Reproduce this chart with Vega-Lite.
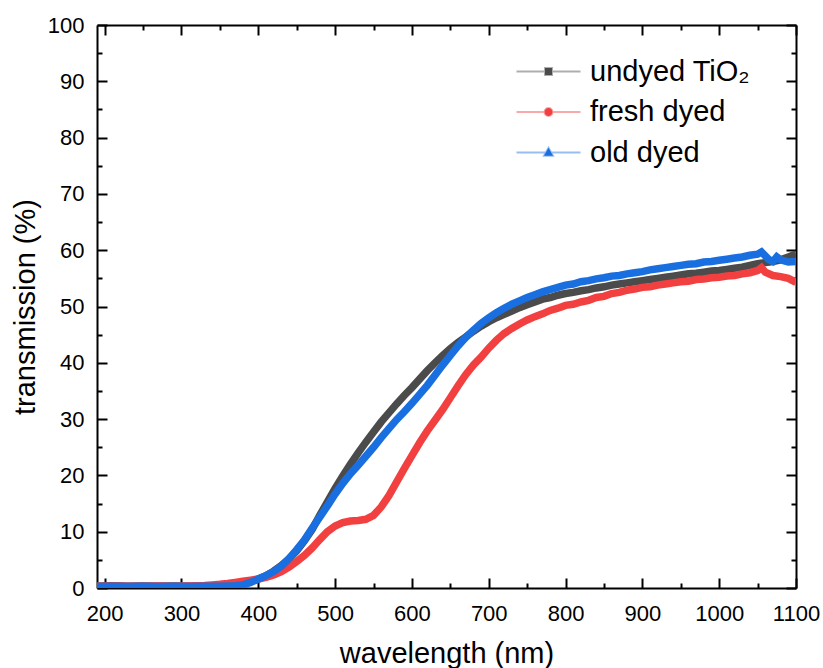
{
  "$schema": "https://vega.github.io/schema/vega-lite/v6.json",
  "width": 699,
  "height": 563,
  "autosize": {"type": "none"},
  "padding": {"left": 97, "top": 25, "right": 27, "bottom": 80},
  "config": {"font": "Liberation Sans", "view": {"stroke": null}, "axis": {"grid": false}},
  "datasets": {
    "spectra": [
      {"series": "undyed TiO₂", "wavelength": 190, "transmission": 0.3},
      {"series": "undyed TiO₂", "wavelength": 210, "transmission": 0.4},
      {"series": "undyed TiO₂", "wavelength": 230, "transmission": 0.3},
      {"series": "undyed TiO₂", "wavelength": 250, "transmission": 0.35},
      {"series": "undyed TiO₂", "wavelength": 270, "transmission": 0.3},
      {"series": "undyed TiO₂", "wavelength": 290, "transmission": 0.35},
      {"series": "undyed TiO₂", "wavelength": 310, "transmission": 0.3},
      {"series": "undyed TiO₂", "wavelength": 330, "transmission": 0.35},
      {"series": "undyed TiO₂", "wavelength": 350, "transmission": 0.4},
      {"series": "undyed TiO₂", "wavelength": 360, "transmission": 0.45},
      {"series": "undyed TiO₂", "wavelength": 370, "transmission": 0.55},
      {"series": "undyed TiO₂", "wavelength": 380, "transmission": 0.75},
      {"series": "undyed TiO₂", "wavelength": 390, "transmission": 1.1},
      {"series": "undyed TiO₂", "wavelength": 400, "transmission": 1.6},
      {"series": "undyed TiO₂", "wavelength": 410, "transmission": 2.2},
      {"series": "undyed TiO₂", "wavelength": 420, "transmission": 3.0},
      {"series": "undyed TiO₂", "wavelength": 430, "transmission": 4.0},
      {"series": "undyed TiO₂", "wavelength": 440, "transmission": 5.2},
      {"series": "undyed TiO₂", "wavelength": 450, "transmission": 6.6},
      {"series": "undyed TiO₂", "wavelength": 460, "transmission": 8.4},
      {"series": "undyed TiO₂", "wavelength": 470, "transmission": 10.4},
      {"series": "undyed TiO₂", "wavelength": 480, "transmission": 12.9},
      {"series": "undyed TiO₂", "wavelength": 490, "transmission": 15.3},
      {"series": "undyed TiO₂", "wavelength": 500, "transmission": 17.7},
      {"series": "undyed TiO₂", "wavelength": 510, "transmission": 19.9},
      {"series": "undyed TiO₂", "wavelength": 520, "transmission": 22.0},
      {"series": "undyed TiO₂", "wavelength": 530, "transmission": 24.0},
      {"series": "undyed TiO₂", "wavelength": 540, "transmission": 25.9},
      {"series": "undyed TiO₂", "wavelength": 550, "transmission": 27.7},
      {"series": "undyed TiO₂", "wavelength": 560, "transmission": 29.5},
      {"series": "undyed TiO₂", "wavelength": 570, "transmission": 31.1},
      {"series": "undyed TiO₂", "wavelength": 580, "transmission": 32.7},
      {"series": "undyed TiO₂", "wavelength": 590, "transmission": 34.2},
      {"series": "undyed TiO₂", "wavelength": 600, "transmission": 35.6},
      {"series": "undyed TiO₂", "wavelength": 610, "transmission": 37.1},
      {"series": "undyed TiO₂", "wavelength": 620, "transmission": 38.6},
      {"series": "undyed TiO₂", "wavelength": 630, "transmission": 40.0},
      {"series": "undyed TiO₂", "wavelength": 640, "transmission": 41.3},
      {"series": "undyed TiO₂", "wavelength": 650, "transmission": 42.5},
      {"series": "undyed TiO₂", "wavelength": 660, "transmission": 43.6},
      {"series": "undyed TiO₂", "wavelength": 670, "transmission": 44.6},
      {"series": "undyed TiO₂", "wavelength": 680, "transmission": 45.6},
      {"series": "undyed TiO₂", "wavelength": 690, "transmission": 46.5},
      {"series": "undyed TiO₂", "wavelength": 700, "transmission": 47.3},
      {"series": "undyed TiO₂", "wavelength": 710, "transmission": 48.0},
      {"series": "undyed TiO₂", "wavelength": 720, "transmission": 48.6},
      {"series": "undyed TiO₂", "wavelength": 730, "transmission": 49.2},
      {"series": "undyed TiO₂", "wavelength": 740, "transmission": 49.8},
      {"series": "undyed TiO₂", "wavelength": 750, "transmission": 50.3},
      {"series": "undyed TiO₂", "wavelength": 760, "transmission": 50.8},
      {"series": "undyed TiO₂", "wavelength": 770, "transmission": 51.3},
      {"series": "undyed TiO₂", "wavelength": 780, "transmission": 51.6},
      {"series": "undyed TiO₂", "wavelength": 790, "transmission": 52.0},
      {"series": "undyed TiO₂", "wavelength": 800, "transmission": 52.3},
      {"series": "undyed TiO₂", "wavelength": 810, "transmission": 52.5},
      {"series": "undyed TiO₂", "wavelength": 820, "transmission": 52.8},
      {"series": "undyed TiO₂", "wavelength": 830, "transmission": 53.0},
      {"series": "undyed TiO₂", "wavelength": 840, "transmission": 53.3},
      {"series": "undyed TiO₂", "wavelength": 850, "transmission": 53.5},
      {"series": "undyed TiO₂", "wavelength": 860, "transmission": 53.8},
      {"series": "undyed TiO₂", "wavelength": 870, "transmission": 54.0},
      {"series": "undyed TiO₂", "wavelength": 880, "transmission": 54.2},
      {"series": "undyed TiO₂", "wavelength": 890, "transmission": 54.4},
      {"series": "undyed TiO₂", "wavelength": 900, "transmission": 54.6},
      {"series": "undyed TiO₂", "wavelength": 910, "transmission": 54.8},
      {"series": "undyed TiO₂", "wavelength": 920, "transmission": 55.0},
      {"series": "undyed TiO₂", "wavelength": 930, "transmission": 55.2},
      {"series": "undyed TiO₂", "wavelength": 940, "transmission": 55.4},
      {"series": "undyed TiO₂", "wavelength": 950, "transmission": 55.6},
      {"series": "undyed TiO₂", "wavelength": 960, "transmission": 55.8},
      {"series": "undyed TiO₂", "wavelength": 970, "transmission": 55.9},
      {"series": "undyed TiO₂", "wavelength": 980, "transmission": 56.1},
      {"series": "undyed TiO₂", "wavelength": 990, "transmission": 56.3},
      {"series": "undyed TiO₂", "wavelength": 1000, "transmission": 56.4},
      {"series": "undyed TiO₂", "wavelength": 1010, "transmission": 56.6},
      {"series": "undyed TiO₂", "wavelength": 1020, "transmission": 56.8},
      {"series": "undyed TiO₂", "wavelength": 1030, "transmission": 57.0},
      {"series": "undyed TiO₂", "wavelength": 1040, "transmission": 57.3},
      {"series": "undyed TiO₂", "wavelength": 1050, "transmission": 57.6},
      {"series": "undyed TiO₂", "wavelength": 1060, "transmission": 57.8},
      {"series": "undyed TiO₂", "wavelength": 1070, "transmission": 58.0},
      {"series": "undyed TiO₂", "wavelength": 1080, "transmission": 58.3},
      {"series": "undyed TiO₂", "wavelength": 1090, "transmission": 58.8},
      {"series": "undyed TiO₂", "wavelength": 1100, "transmission": 59.3},

      {"series": "fresh dyed", "wavelength": 190, "transmission": 0.3},
      {"series": "fresh dyed", "wavelength": 210, "transmission": 0.35},
      {"series": "fresh dyed", "wavelength": 230, "transmission": 0.3},
      {"series": "fresh dyed", "wavelength": 250, "transmission": 0.3},
      {"series": "fresh dyed", "wavelength": 270, "transmission": 0.35},
      {"series": "fresh dyed", "wavelength": 290, "transmission": 0.3},
      {"series": "fresh dyed", "wavelength": 310, "transmission": 0.35},
      {"series": "fresh dyed", "wavelength": 330, "transmission": 0.45},
      {"series": "fresh dyed", "wavelength": 340, "transmission": 0.55},
      {"series": "fresh dyed", "wavelength": 350, "transmission": 0.65},
      {"series": "fresh dyed", "wavelength": 360, "transmission": 0.8},
      {"series": "fresh dyed", "wavelength": 370, "transmission": 1.0},
      {"series": "fresh dyed", "wavelength": 380, "transmission": 1.2},
      {"series": "fresh dyed", "wavelength": 390, "transmission": 1.4},
      {"series": "fresh dyed", "wavelength": 400, "transmission": 1.6},
      {"series": "fresh dyed", "wavelength": 410, "transmission": 1.9},
      {"series": "fresh dyed", "wavelength": 420, "transmission": 2.3},
      {"series": "fresh dyed", "wavelength": 430, "transmission": 2.9},
      {"series": "fresh dyed", "wavelength": 440, "transmission": 3.7},
      {"series": "fresh dyed", "wavelength": 450, "transmission": 4.7},
      {"series": "fresh dyed", "wavelength": 460, "transmission": 5.8},
      {"series": "fresh dyed", "wavelength": 470, "transmission": 7.1},
      {"series": "fresh dyed", "wavelength": 480, "transmission": 8.6},
      {"series": "fresh dyed", "wavelength": 490, "transmission": 10.0},
      {"series": "fresh dyed", "wavelength": 500, "transmission": 11.0},
      {"series": "fresh dyed", "wavelength": 510, "transmission": 11.6},
      {"series": "fresh dyed", "wavelength": 520, "transmission": 11.9},
      {"series": "fresh dyed", "wavelength": 530, "transmission": 12.0},
      {"series": "fresh dyed", "wavelength": 540, "transmission": 12.2},
      {"series": "fresh dyed", "wavelength": 550, "transmission": 12.9},
      {"series": "fresh dyed", "wavelength": 560, "transmission": 14.4},
      {"series": "fresh dyed", "wavelength": 570, "transmission": 16.4},
      {"series": "fresh dyed", "wavelength": 580, "transmission": 18.8},
      {"series": "fresh dyed", "wavelength": 590, "transmission": 21.2},
      {"series": "fresh dyed", "wavelength": 600, "transmission": 23.5},
      {"series": "fresh dyed", "wavelength": 610, "transmission": 25.8},
      {"series": "fresh dyed", "wavelength": 620, "transmission": 27.9},
      {"series": "fresh dyed", "wavelength": 630, "transmission": 29.8},
      {"series": "fresh dyed", "wavelength": 640, "transmission": 31.7},
      {"series": "fresh dyed", "wavelength": 650, "transmission": 33.8},
      {"series": "fresh dyed", "wavelength": 660, "transmission": 35.9},
      {"series": "fresh dyed", "wavelength": 670, "transmission": 37.9},
      {"series": "fresh dyed", "wavelength": 680, "transmission": 39.6},
      {"series": "fresh dyed", "wavelength": 690, "transmission": 41.0},
      {"series": "fresh dyed", "wavelength": 700, "transmission": 42.6},
      {"series": "fresh dyed", "wavelength": 710, "transmission": 44.0},
      {"series": "fresh dyed", "wavelength": 720, "transmission": 45.2},
      {"series": "fresh dyed", "wavelength": 730, "transmission": 46.1},
      {"series": "fresh dyed", "wavelength": 740, "transmission": 46.9},
      {"series": "fresh dyed", "wavelength": 750, "transmission": 47.6},
      {"series": "fresh dyed", "wavelength": 760, "transmission": 48.2},
      {"series": "fresh dyed", "wavelength": 770, "transmission": 48.7},
      {"series": "fresh dyed", "wavelength": 780, "transmission": 49.3},
      {"series": "fresh dyed", "wavelength": 790, "transmission": 49.7},
      {"series": "fresh dyed", "wavelength": 800, "transmission": 50.2},
      {"series": "fresh dyed", "wavelength": 810, "transmission": 50.4},
      {"series": "fresh dyed", "wavelength": 820, "transmission": 50.8},
      {"series": "fresh dyed", "wavelength": 830, "transmission": 51.1},
      {"series": "fresh dyed", "wavelength": 840, "transmission": 51.6},
      {"series": "fresh dyed", "wavelength": 850, "transmission": 51.8},
      {"series": "fresh dyed", "wavelength": 860, "transmission": 52.3},
      {"series": "fresh dyed", "wavelength": 870, "transmission": 52.5},
      {"series": "fresh dyed", "wavelength": 880, "transmission": 52.9},
      {"series": "fresh dyed", "wavelength": 890, "transmission": 53.1},
      {"series": "fresh dyed", "wavelength": 900, "transmission": 53.4},
      {"series": "fresh dyed", "wavelength": 910, "transmission": 53.5},
      {"series": "fresh dyed", "wavelength": 920, "transmission": 53.8},
      {"series": "fresh dyed", "wavelength": 930, "transmission": 54.0},
      {"series": "fresh dyed", "wavelength": 940, "transmission": 54.2},
      {"series": "fresh dyed", "wavelength": 950, "transmission": 54.4},
      {"series": "fresh dyed", "wavelength": 960, "transmission": 54.5},
      {"series": "fresh dyed", "wavelength": 970, "transmission": 54.8},
      {"series": "fresh dyed", "wavelength": 980, "transmission": 54.9},
      {"series": "fresh dyed", "wavelength": 990, "transmission": 55.1},
      {"series": "fresh dyed", "wavelength": 1000, "transmission": 55.2},
      {"series": "fresh dyed", "wavelength": 1010, "transmission": 55.4},
      {"series": "fresh dyed", "wavelength": 1020, "transmission": 55.5},
      {"series": "fresh dyed", "wavelength": 1030, "transmission": 55.8},
      {"series": "fresh dyed", "wavelength": 1040, "transmission": 56.0},
      {"series": "fresh dyed", "wavelength": 1050, "transmission": 56.4},
      {"series": "fresh dyed", "wavelength": 1055, "transmission": 56.9},
      {"series": "fresh dyed", "wavelength": 1060, "transmission": 56.1},
      {"series": "fresh dyed", "wavelength": 1070, "transmission": 55.5},
      {"series": "fresh dyed", "wavelength": 1080, "transmission": 55.3},
      {"series": "fresh dyed", "wavelength": 1090, "transmission": 55.0},
      {"series": "fresh dyed", "wavelength": 1100, "transmission": 54.3},

      {"series": "old dyed", "wavelength": 190, "transmission": 0.25},
      {"series": "old dyed", "wavelength": 210, "transmission": 0.3},
      {"series": "old dyed", "wavelength": 230, "transmission": 0.25},
      {"series": "old dyed", "wavelength": 250, "transmission": 0.3},
      {"series": "old dyed", "wavelength": 270, "transmission": 0.25},
      {"series": "old dyed", "wavelength": 290, "transmission": 0.3},
      {"series": "old dyed", "wavelength": 310, "transmission": 0.25},
      {"series": "old dyed", "wavelength": 330, "transmission": 0.3},
      {"series": "old dyed", "wavelength": 350, "transmission": 0.3},
      {"series": "old dyed", "wavelength": 360, "transmission": 0.35},
      {"series": "old dyed", "wavelength": 370, "transmission": 0.4},
      {"series": "old dyed", "wavelength": 380, "transmission": 0.55},
      {"series": "old dyed", "wavelength": 390, "transmission": 1.0},
      {"series": "old dyed", "wavelength": 400, "transmission": 1.6},
      {"series": "old dyed", "wavelength": 410, "transmission": 2.2},
      {"series": "old dyed", "wavelength": 420, "transmission": 2.9},
      {"series": "old dyed", "wavelength": 430, "transmission": 3.9},
      {"series": "old dyed", "wavelength": 440, "transmission": 5.2},
      {"series": "old dyed", "wavelength": 450, "transmission": 6.8},
      {"series": "old dyed", "wavelength": 460, "transmission": 8.5},
      {"series": "old dyed", "wavelength": 470, "transmission": 10.6},
      {"series": "old dyed", "wavelength": 480, "transmission": 12.6},
      {"series": "old dyed", "wavelength": 490, "transmission": 14.6},
      {"series": "old dyed", "wavelength": 500, "transmission": 16.7},
      {"series": "old dyed", "wavelength": 510, "transmission": 18.6},
      {"series": "old dyed", "wavelength": 520, "transmission": 20.3},
      {"series": "old dyed", "wavelength": 530, "transmission": 21.8},
      {"series": "old dyed", "wavelength": 540, "transmission": 23.4},
      {"series": "old dyed", "wavelength": 550, "transmission": 25.0},
      {"series": "old dyed", "wavelength": 560, "transmission": 26.7},
      {"series": "old dyed", "wavelength": 570, "transmission": 28.3},
      {"series": "old dyed", "wavelength": 580, "transmission": 29.9},
      {"series": "old dyed", "wavelength": 590, "transmission": 31.3},
      {"series": "old dyed", "wavelength": 600, "transmission": 32.8},
      {"series": "old dyed", "wavelength": 610, "transmission": 34.4},
      {"series": "old dyed", "wavelength": 620, "transmission": 36.0},
      {"series": "old dyed", "wavelength": 630, "transmission": 37.8},
      {"series": "old dyed", "wavelength": 640, "transmission": 39.6},
      {"series": "old dyed", "wavelength": 650, "transmission": 41.3},
      {"series": "old dyed", "wavelength": 660, "transmission": 43.0},
      {"series": "old dyed", "wavelength": 670, "transmission": 44.5},
      {"series": "old dyed", "wavelength": 680, "transmission": 45.8},
      {"series": "old dyed", "wavelength": 690, "transmission": 47.0},
      {"series": "old dyed", "wavelength": 700, "transmission": 48.0},
      {"series": "old dyed", "wavelength": 710, "transmission": 48.9},
      {"series": "old dyed", "wavelength": 720, "transmission": 49.7},
      {"series": "old dyed", "wavelength": 730, "transmission": 50.4},
      {"series": "old dyed", "wavelength": 740, "transmission": 51.0},
      {"series": "old dyed", "wavelength": 750, "transmission": 51.6},
      {"series": "old dyed", "wavelength": 760, "transmission": 52.1},
      {"series": "old dyed", "wavelength": 770, "transmission": 52.6},
      {"series": "old dyed", "wavelength": 780, "transmission": 53.0},
      {"series": "old dyed", "wavelength": 790, "transmission": 53.4},
      {"series": "old dyed", "wavelength": 800, "transmission": 53.8},
      {"series": "old dyed", "wavelength": 810, "transmission": 54.0},
      {"series": "old dyed", "wavelength": 820, "transmission": 54.4},
      {"series": "old dyed", "wavelength": 830, "transmission": 54.6},
      {"series": "old dyed", "wavelength": 840, "transmission": 54.9},
      {"series": "old dyed", "wavelength": 850, "transmission": 55.1},
      {"series": "old dyed", "wavelength": 860, "transmission": 55.4},
      {"series": "old dyed", "wavelength": 870, "transmission": 55.5},
      {"series": "old dyed", "wavelength": 880, "transmission": 55.8},
      {"series": "old dyed", "wavelength": 890, "transmission": 56.0},
      {"series": "old dyed", "wavelength": 900, "transmission": 56.2},
      {"series": "old dyed", "wavelength": 910, "transmission": 56.5},
      {"series": "old dyed", "wavelength": 920, "transmission": 56.7},
      {"series": "old dyed", "wavelength": 930, "transmission": 56.9},
      {"series": "old dyed", "wavelength": 940, "transmission": 57.1},
      {"series": "old dyed", "wavelength": 950, "transmission": 57.3},
      {"series": "old dyed", "wavelength": 960, "transmission": 57.5},
      {"series": "old dyed", "wavelength": 970, "transmission": 57.6},
      {"series": "old dyed", "wavelength": 980, "transmission": 57.9},
      {"series": "old dyed", "wavelength": 990, "transmission": 58.0},
      {"series": "old dyed", "wavelength": 1000, "transmission": 58.2},
      {"series": "old dyed", "wavelength": 1010, "transmission": 58.4},
      {"series": "old dyed", "wavelength": 1020, "transmission": 58.6},
      {"series": "old dyed", "wavelength": 1030, "transmission": 58.8},
      {"series": "old dyed", "wavelength": 1040, "transmission": 59.1},
      {"series": "old dyed", "wavelength": 1050, "transmission": 59.3},
      {"series": "old dyed", "wavelength": 1055, "transmission": 59.7},
      {"series": "old dyed", "wavelength": 1060, "transmission": 59.0},
      {"series": "old dyed", "wavelength": 1065, "transmission": 58.3},
      {"series": "old dyed", "wavelength": 1070, "transmission": 58.0},
      {"series": "old dyed", "wavelength": 1075, "transmission": 58.8},
      {"series": "old dyed", "wavelength": 1080, "transmission": 58.3},
      {"series": "old dyed", "wavelength": 1090, "transmission": 57.9},
      {"series": "old dyed", "wavelength": 1100, "transmission": 58.0}
    ]
  },
  "data": {"name": "spectra"},
  "layer": [
    {
      "mark": {"type": "line", "strokeWidth": 7.5, "clip": true},
      "encoding": {
        "x": {
          "field": "wavelength", "type": "quantitative",
          "scale": {"domain": [190, 1100], "nice": false, "zero": false},
          "axis": {
            "orient": "bottom",
            "values": [200, 250, 300, 350, 400, 450, 500, 550, 600, 650, 700, 750, 800, 850, 900, 950, 1000, 1050, 1100],
            "labelExpr": "datum.value % 100 === 0 ? '' + datum.value : ''",
            "tickSize": {"condition": {"test": "datum.value % 100 === 0", "value": -10}, "value": -5},
            "tickWidth": 2, "tickColor": "black",
            "domainColor": "black", "domainWidth": 2,
            "labelFontSize": 22, "labelColor": "black", "labelPadding": 25,
            "labelFlush": false, "labelOverlap": false, "labelBound": false,
            "title": "wavelength (nm)", "titleFontSize": 29, "titleFontWeight": "normal",
            "titleColor": "black", "titlePadding": 10, "grid": false
          }
        },
        "y": {
          "field": "transmission", "type": "quantitative",
          "scale": {"domain": [0, 100], "nice": false},
          "axis": {
            "orient": "left",
            "values": [0, 5, 10, 15, 20, 25, 30, 35, 40, 45, 50, 55, 60, 65, 70, 75, 80, 85, 90, 95, 100],
            "labelExpr": "datum.value % 10 === 0 ? '' + datum.value : ''",
            "tickSize": {"condition": {"test": "datum.value % 10 === 0", "value": -10}, "value": -5},
            "tickWidth": 2, "tickColor": "black",
            "domainColor": "black", "domainWidth": 2,
            "labelFontSize": 22, "labelColor": "black", "labelPadding": 23,
            "labelFlush": false, "labelOverlap": false, "labelBound": false,
            "title": "transmission (%)", "titleFontSize": 29, "titleFontWeight": "normal",
            "titleColor": "black", "titlePadding": 7, "grid": false
          }
        },
        "color": {
          "field": "series", "type": "nominal",
          "scale": {"domain": ["undyed TiO₂", "fresh dyed", "old dyed"], "range": ["#4b4b4b", "#f24040", "#1a6fe0"]},
          "legend": {
            "orient": "none", "legendX": 437, "legendY": 32, "title": null,
            "padding": 0, "labelFontSize": 29, "labelColor": "black", "labelOffset": 27,
            "labelLimit": 400, "symbolSize": 100, "symbolStrokeWidth": 2, "rowPadding": 10.5,
            "encode": {
              "symbols": {
                "update": {
                  "shape": {"signal": "datum.value === 'undyed TiO₂' ? 'M-6.4,0L6.4,0M-0.7,-0.7L0.7,-0.7L0.7,0.7L-0.7,0.7Z' : datum.value === 'fresh dyed' ? 'M-6.4,0L6.4,0M-0.8,0A0.8,0.8,0,1,0,0.8,0A0.8,0.8,0,1,0,-0.8,0Z' : 'M-6.4,0L6.4,0M0,-0.95L0.9,0.65L-0.9,0.65Z'"},
                  "fill": {"scale": "color", "field": "value"},
                  "fillOpacity": {"value": 1},
                  "strokeOpacity": {"value": 0.45}
                }
              }
            }
          }
        }
      }
    },
    {
      "transform": [{"filter": "datum.wavelength === 700"}],
      "mark": {"type": "point", "opacity": 0},
      "encoding": {
        "x": {
          "field": "wavelength", "type": "quantitative",
          "axis": {
            "orient": "top",
            "values": [200, 250, 300, 350, 400, 450, 500, 550, 600, 650, 700, 750, 800, 850, 900, 950, 1000, 1050, 1100],
            "labels": false,
            "tickSize": {"condition": {"test": "datum.value % 100 === 0", "value": -10}, "value": -5},
            "tickWidth": 2, "tickColor": "black",
            "domainColor": "black", "domainWidth": 2,
            "title": null, "grid": false
          }
        },
        "y": {
          "field": "transmission", "type": "quantitative",
          "axis": {
            "orient": "right",
            "values": [0, 5, 10, 15, 20, 25, 30, 35, 40, 45, 50, 55, 60, 65, 70, 75, 80, 85, 90, 95, 100],
            "labels": false,
            "tickSize": {"condition": {"test": "datum.value % 10 === 0", "value": -10}, "value": -5},
            "tickWidth": 2, "tickColor": "black",
            "domainColor": "black", "domainWidth": 2,
            "title": null, "grid": false
          }
        }
      }
    }
  ],
  "resolve": {"axis": {"x": "independent", "y": "independent"}}
}
